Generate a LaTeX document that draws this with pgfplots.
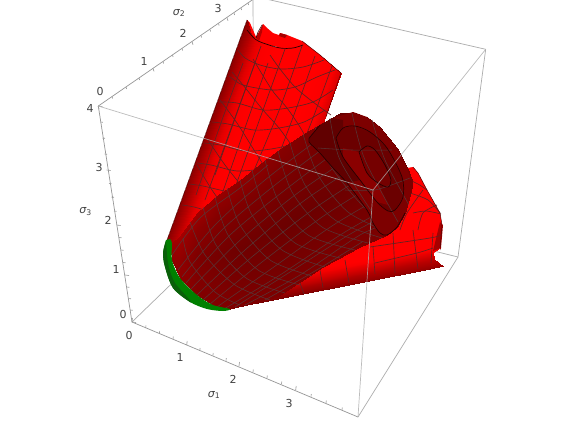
\documentclass[border=0pt]{standalone}
\usepackage{pgfplots}
\usepackage{fontspec}
\setmainfont{DejaVu Sans}
\pgfplotsset{compat=1.18}
\definecolor{boxline}{RGB}{172,172,172}
\definecolor{axline}{RGB}{150,150,150}
\definecolor{lab}{RGB}{65,65,65}
\definecolor{tubered}{RGB}{255,0,0}
\definecolor{wire}{RGB}{95,35,35}
\definecolor{wiredark}{RGB}{85,58,58}
\definecolor{rim}{RGB}{40,0,0}
\newcommand\poly[2]{\addplot[fill=#1,draw=none] coordinates {#2} -- cycle;}
\newcommand\ww[1]{\addplot[wire,line width=0.65pt,smooth] coordinates {#1};}
\newcommand\wq[1]{\addplot[wiredark,line width=0.55pt,opacity=0.9,smooth] coordinates {#1};}
\newcommand\ct[1]{\addplot[rim,line width=0.7pt,smooth] coordinates {#1};}
\newcommand\lb[3]{\node[font=\fontsize{11}{13}\selectfont,text=lab] at (axis cs:#1,#2) {#3};}
\begin{document}
\begin{tikzpicture}
\begin{axis}[width=565pt,height=422pt,scale only axis,hide axis,
  xmin=0,xmax=565,ymin=0,ymax=422,y dir=reverse,view={0}{90},
  colormap={blackred}{rgb255=(0,0,0) rgb255=(255,0,0)},
  point meta min=0,point meta max=255]
\addplot[fill=white,draw=none] coordinates {(0,0) (565,0) (565,422) (0,422)} -- cycle;

% back edges of the box
\addplot[boxline,line width=0.7pt] coordinates {(132,322) (252,206)};
\addplot[boxline,line width=0.7pt] coordinates {(252,206) (458,257)};
\addplot[boxline,line width=0.7pt] coordinates {(253,-4) (254,206)};
\addplot[boxline,line width=0.7pt] coordinates {(253,-4) (485.7,49.3)};
\addplot[boxline,line width=0.7pt] coordinates {(485.7,49.3) (458,257)};
\addplot[boxline,line width=0.7pt] coordinates {(458,257) (358,417)};

% axes with ticks
\addplot[axline,line width=0.7pt] coordinates {(132,322) (358,417)};
\addplot[axline,line width=0.7pt] coordinates {(98.3,106) (132,322)};
\addplot[axline,line width=0.7pt] coordinates {(98.3,106) (258,-4)};
\addplot[axline,line width=0.6pt,unbounded coords=jump] coordinates {
(132,322) (132.5,318) (nan,nan) (186.7,345) (187.2,341) (nan,nan) (239,366) (239.5,362) (nan,nan) (295.7,390) (296.2,386) (nan,nan)
(145.7,328) (146,325.5) (nan,nan) (159.4,333.5) (159.7,331) (nan,nan) (173,339) (173.3,336.5) (nan,nan)
(199.8,350.5) (200.1,348) (nan,nan) (212.9,355.5) (213.2,353) (nan,nan) (226,360.5) (226.3,358) (nan,nan)
(253,372) (253.3,369.5) (nan,nan) (267,378) (267.3,375.5) (nan,nan) (281.5,384) (281.8,381.5) (nan,nan)
(311,396.5) (311.3,394) (nan,nan) (326,403) (326.3,400.5) (nan,nan) (342,410) (342.3,407.5)};
\addplot[axline,line width=0.6pt,unbounded coords=jump] coordinates {
(98,106) (99,109) (nan,nan) (153,68.4) (154,71.4) (nan,nan) (192,41.7) (193,44.7) (nan,nan) (227,17.8) (228,20.8) (nan,nan)
(112,96.5) (112.6,98.5) (nan,nan) (126,87) (126.6,89) (nan,nan) (139,78) (139.6,80) (nan,nan)
(163,61.5) (163.6,63.5) (nan,nan) (172.5,55) (173.1,57) (nan,nan) (182,48.5) (182.6,50.5) (nan,nan)
(201,35.5) (201.6,37.5) (nan,nan) (210,29.5) (210.6,31.5) (nan,nan) (218.5,23.5) (219.1,25.5) (nan,nan)
(234,13) (234.6,15) (nan,nan) (241,8) (241.6,10) (nan,nan) (248,3) (248.6,5)};
\addplot[axline,line width=0.6pt,unbounded coords=jump] coordinates {
(98.3,106) (102.3,106.5) (nan,nan) (106.7,170) (110.7,170.5) (nan,nan) (116.7,225) (120.7,225.5) (nan,nan) (125,275) (129,275.5) (nan,nan) (132,322) (136,322.5) (nan,nan)
(100.4,122) (102.9,122.3) (nan,nan) (102.5,138) (105,138.3) (nan,nan) (104.6,154) (107.1,154.3) (nan,nan)
(109,183.5) (111.5,183.8) (nan,nan) (111.5,197) (114,197.3) (nan,nan) (114,211) (116.5,211.3) (nan,nan)
(119,237.5) (121.5,237.8) (nan,nan) (121,250) (123.5,250.3) (nan,nan) (123,262.5) (125.5,262.8) (nan,nan)
(126.8,287) (129.3,287.3) (nan,nan) (128.5,298.5) (131,298.8) (nan,nan) (130.2,310) (132.7,310.3)};

% upper tube, back of the rim
\poly{tubered}{(247,20) (250,23) (253,30) (256,37) (259,32) (263,24) (267,28) (273,33) (279,35) (280,33) (287,35) (302,41) (320,55) (293,50) (263,44) (250,36)}
\poly{red!72!black}{(247,20) (249,26) (250,36) (247,30)}
\poly{red!72!black}{(263,24) (259,32) (256,38) (259,41) (262,32)}
\poly{red!65!black}{(280,33) (287,35) (285,38) (279,36)}

% upper tube, body shaded across its width
\addplot3[surf,shader=interp,mesh/rows=9,mesh/cols=2,point meta=\thisrow{c}] table {
x y z c
167 240 0 140
247 20 0 140
171 254 0 185
251 34 0 185
176 260 0 225
256 40 0 225
183 263 0 250
263 43 0 250
195 267 0 255
275 47 0 255
213 262 0 255
293 42 0 255
240 275 0 255
320 55 0 255
254 287 0 250
334 67 0 250
261 293 0 215
341 73 0 215
};

% mesh on the upper tube
\ww{(261,46) (232,127) (215,175)}
\ww{(243,63) (222,120) (196,195)}
\ww{(255,63) (233,123) (205,200)}
\ww{(268,63) (246,125) (220,200)}
\ww{(285,49) (263,110) (236,185)}
\ww{(302,46) (280,108) (252,175)}
\ww{(315,56) (295,112) (275,165)}
\ww{(332,66) (313,118) (300,150)}
\ww{(238,50) (245,58) (260,65) (280,69) (303,67) (324,60)}
\ww{(229,76) (243,85) (272,90) (295,87) (317,77) (335,70)}
\ww{(219,102) (237,103) (263,110) (288,108) (313,102) (333,90)}
\ww{(212,122) (228,124) (254,130) (279,128) (304,122) (325,110)}
\ww{(204,143) (220,145) (245,151) (271,149) (296,143) (312,132)}
\ww{(197,163) (211,165) (237,171) (262,169)}
\ww{(189,184) (203,186) (228,192)}
\ww{(182,205) (194,207) (215,213)}
\ww{(253,59) (272,90) (287,108) (300,127) (310,145)}
\ww{(270,55) (280,69) (295,87) (313,102) (331,115)}
\ww{(232,72) (243,85) (263,110) (279,128) (295,150)}
\ww{(220,100) (237,123) (254,150) (270,175)}
\ww{(208,140) (225,165) (245,190)}
\ww{(197,165) (212,190) (230,215)}

% rim lines of the upper tube
\addplot[rim,line width=0.7pt,smooth] coordinates {(247,30) (255,39) (263,43) (280,48) (293,48) (303,45)};
\addplot[rim,line width=0.5pt] coordinates {(256,38) (258,32) (262,25)};
\addplot[rim!80!red,line width=0.5pt] coordinates {(302,41) (320,55) (334,67) (341,73)};
\addplot[rim!80!red,line width=0.5pt] coordinates {(167,240) (247,20)};
\addplot[rim!80!red,line width=0.5pt] coordinates {(341,73) (326,117)};

% lower tube
\poly{tubered}{(217,288) (433,254) (440,248) (442,225) (440,213) (427,190) (418,173) (413,167) (407,168) (300,150)}
\addplot3[surf,shader=interp,mesh/rows=5,mesh/cols=2,point meta=\thisrow{c}] table {
x y z c
222 310 0 115
430 268.5 0 115
221 305 0 150
443 266 0 150
220 300 0 190
434 259 0 190
219 292 0 235
433 252 0 235
217 284 0 255
440 248 0 255
};
\poly{red!65!black}{(433,251) (440,222) (443,225) (441,248)}
\ww{(370,247) (430,238) (441,235)}
\ww{(375,263) (417,253) (433,248)}
\ww{(373,247) (375,274)}
\ww{(393,233) (395,273)}
\ww{(413,230) (418,269)}
\ww{(433,233) (431,263)}
\ww{(410,193) (428,200) (440,213)}
\ww{(400,230) (407,213) (423,190)}
\ww{(418,230) (423,213) (437,205)}
\ww{(413,213) (426,211) (441,214)}
\ww{(405,178) (418,184) (427,190)}
\ww{(320,270) (323,288)}
\ww{(345,260) (349,283)}
\ww{(300,283) (304,294)}
\addplot[rim!80!red,line width=0.5pt] coordinates {(413,167) (418,173) (427,190) (440,213) (442,225)};
\addplot[rim!80!red,line width=0.5pt] coordinates {(442,225) (440,250)};

% front tube
\addplot3[surf,shader=interp,mesh/rows=14,mesh/cols=4,point meta=\thisrow{c}] table {
x y z c
172 243 0 160
172 246.4 0 155
172 252.4 0 150
172 260 0 140
180 236 0 165
180 244.4 0 155
180 259.1 0 145
180 278 0 140
197 213 0 160
197 229.4 0 140
197 258.1 0 125
197 295 0 130
218 195 0 150
217 217 0 132
215.3 255.5 0 118
213 305 0 130
240 180 0 145
238 205.8 0 128
234.5 251 0 112
230 309 0 128
265 160 0 140
263 188.6 0 125
259.5 238.7 0 110
255 303 0 125
283 147 0 135
281.8 177 0 122
279.7 229.5 0 108
277 297 0 125
310 130 0 125
312.6 157.4 0 118
317.2 205.4 0 108
323 267 0 125
340 113 0 105
344 139.8 0 110
351 186.7 0 110
360 247 0 125
353 112 0 100
359.8 136.6 0 105
371.7 179.7 0 110
387 235 0 125
367 117 0 100
373 139 0 105
383.5 177.5 0 112
397 227 0 125
380 127 0 100
385 144.2 0 105
393.8 174.3 0 115
405 213 0 125
397 148 0 105
400 155.8 0 108
405.3 169.5 0 115
412 187 0 125
408 170 0 110
408.8 172 0 112
410.2 175.5 0 115
412 180 0 125
};

% mesh on the front tube
\wq{(172,255) (200,218) (240,188) (268,165)}
\wq{(178,270) (215,225) (265,180) (320,138)}
\wq{(182,277) (222,230) (275,185) (332,142)}
\wq{(186,283) (230,235) (285,190) (345,145)}
\wq{(191,289) (237,243) (295,195) (358,152)}
\wq{(197,295) (245,250) (305,200) (370,158)}
\wq{(203,300) (253,256) (315,208) (380,166)}
\wq{(210,304) (262,262) (325,215) (390,175)}
\wq{(217,307) (271,269) (335,224) (397,188)}
\wq{(224,309) (280,275) (345,232) (402,200)}
\wq{(235,307) (290,272) (352,233) (397,210)}
\wq{(245,305) (300,275) (360,235) (392,222)}
\wq{(265,300) (320,268) (362,242)}
\wq{(183,238) (190,262) (215,292) (240,305)}
\wq{(190,222) (205,255) (235,285) (270,300)}
\wq{(203,207) (216,245) (246,278) (285,293)}
\wq{(215,197) (228,235) (258,270) (300,285)}
\wq{(227,188) (240,225) (270,260) (312,276)}
\wq{(240,180) (252,215) (282,250) (325,267)}
\wq{(252,170) (265,208) (295,243) (340,258)}
\wq{(265,160) (278,200) (308,235) (355,250)}
\wq{(278,151) (292,192) (322,227) (368,243)}
\wq{(290,143) (305,185) (335,220) (382,238)}
\wq{(303,134) (318,175) (348,212) (388,232)}
\wq{(315,127) (330,165) (362,205) (392,228)}

% rings inside the open end of the front tube
\poly{red!49!black}{(309,142) (310,137) (320,125) (333,118) (353,112) (367,117) (380,127) (397,148) (408,170) (412,190) (405,213) (397,227) (387,235) (380,233) (373,223) (367,210) (347,183) (333,168) (320,153)}
\poly{red!38!black}{(309,142) (310,137) (320,125) (333,118) (343,120) (343,128) (336,138) (343,157) (360,180) (347,183) (333,168) (320,153)}
\poly{red!42!black}{(336,138) (343,128) (355,126) (370,132) (387,148) (402,177) (403,197) (395,210) (388,211) (377,202) (360,180) (343,157)}
\poly{red!54!black}{(343,148) (359,152) (367,173) (378,183) (388,205) (377,202) (360,180) (343,157)}
\poly{red!46!black}{(359,152) (367,146) (375,150) (385,165) (391,180) (388,187) (378,183) (367,173)}
\wq{(330,118) (340,160) (372,212)}
\wq{(352,113) (365,160) (398,222)}
\wq{(372,120) (385,160) (409,205)}
\wq{(318,148) (352,150) (392,150)}
\wq{(345,190) (375,190) (410,178)}
\ct{(310,137) (309,142) (320,153) (333,168) (347,183) (367,210) (373,223) (380,233) (387,235) (397,227) (405,213)}
\ct{(320,125) (310,137)}
\ct{(336,138) (343,128) (355,126) (370,132) (387,148) (402,177) (403,197) (395,210) (388,211) (377,202) (360,180) (343,157) (336,138)}
\ct{(359,152) (367,146) (375,150) (385,165) (391,180) (388,187) (378,183) (367,173) (359,152)}

% green end piece
\addplot[fill={rgb,255:red,0;green,128;blue,0},draw=none,smooth] coordinates {(166,240) (163,253) (165,267) (173,288) (190,302) (207,309) (223,311) (230,309) (213,305) (197,295) (180,278) (172,260) (172,243) (170,239)} -- cycle;
\addplot[fill={rgb,255:red,10;green,95;blue,10},draw=none,smooth] coordinates {(166,241) (163,253) (165,267) (173,288) (190,302) (188,298) (175,283) (169,268) (167,255)} -- cycle;

% front edges of the box, over the surface
\addplot[boxline,line width=0.7pt,opacity=0.8] coordinates {(98.3,106) (373,190)};
\addplot[boxline,line width=0.7pt,opacity=0.8] coordinates {(373,190) (358,417)};
\addplot[boxline,line width=0.7pt,opacity=0.8] coordinates {(373,190) (485.7,49.3)};

\lb{129}{335}{0}
\lb{180}{357}{1}
\lb{233}{379}{2}
\lb{289}{403}{3}
\lb{214}{395}{{\itshape σ}\textsubscript{1}}
\lb{100}{91}{0}
\lb{144}{61}{1}
\lb{183}{33}{2}
\lb{218}{8}{3}
\lb{179}{13}{{\itshape σ}\textsubscript{2}}
\lb{123}{314}{0}
\lb{116}{269}{1}
\lb{108}{220}{2}
\lb{99}{167}{3}
\lb{90}{108}{4}
\lb{85.5}{212}{{\itshape σ}\textsubscript{3}}
\end{axis}
\end{tikzpicture}
\end{document}
